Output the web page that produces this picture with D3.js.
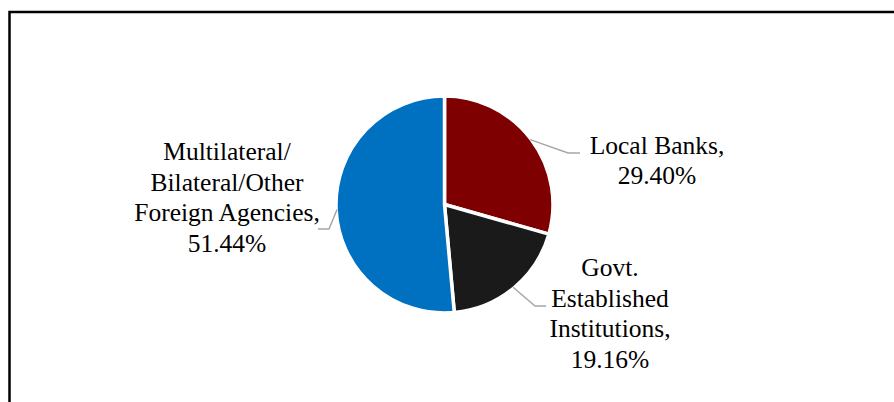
<!DOCTYPE html>
<html>
<head>
<meta charset="utf-8">
<script src="https://cdn.jsdelivr.net/npm/d3@7/dist/d3.min.js"></script>
<style>
  html, body { margin: 0; padding: 0; background: #fff; }
  svg { display: block; }
</style>
</head>
<body>
<div id="chart"></div>
<script>
// Sources of funding, share of total (%)
const categories = ["Local Banks", "Govt. Established Institutions", "Multilateral/Bilateral/Other Foreign Agencies"];
const shares = [29.40, 19.16, 51.44];
const colors = ["#7f0000", "#1a1a1a", "#0070c0"];
// Label text lines for each slice (the value line is appended from the data)
const labelLines = [
  ["Local Banks,"],
  ["Govt.", "Established", "Institutions,"],
  ["Multilateral/", "Bilateral/Other", "Foreign Agencies,"]
];

const W = 894, H = 402;
const cx = 444.5, cy = 204.5, R = 108.5;
const fontSize = 25.5, lineH = 30.7;

// Label placement: text anchor point (centre x, first baseline) and leader elbow/end
const labelLayout = [
  { x: 657, y: 153.5, elbow: [568, 153], end: [580, 153] },
  { x: 610, y: 276,   elbow: [535, 306], end: [546, 306] },
  { x: 227, y: 160,   elbow: [329, 229], end: [318, 229] }
];

const svg = d3.select("#chart").append("svg")
  .attr("width", W).attr("height", H);

// Chart area frame
svg.append("rect")
  .attr("x", 9.5).attr("y", 12)
  .attr("width", W + 20).attr("height", H + 20)
  .attr("fill", "none")
  .attr("stroke", "#000")
  .attr("stroke-width", 2.5);

const data = categories.map((c, i) => ({ name: c, value: shares[i], color: colors[i], lines: labelLines[i], layout: labelLayout[i] }));

const pie = d3.pie().value(d => d.value).sort(null);
const arc = d3.arc().innerRadius(0).outerRadius(R);
const arcs = pie(data);

const g = svg.append("g").attr("transform", `translate(${cx},${cy})`);

g.selectAll("path.slice")
  .data(arcs)
  .join("path")
  .attr("class", "slice")
  .attr("d", arc)
  .attr("fill", d => d.data.color)
  .attr("stroke", "#fff")
  .attr("stroke-width", 3.5)
  .attr("stroke-linejoin", "miter");

// Leader lines from the slice edge to the label
arcs.forEach(a => {
  const mid = (a.startAngle + a.endAngle) / 2;
  const sx = cx + (R - 1) * Math.sin(mid);
  const sy = cy - (R - 1) * Math.cos(mid);
  const L = a.data.layout;
  svg.append("polyline")
    .attr("points", [[sx, sy], L.elbow, L.end].map(p => p.join(",")).join(" "))
    .attr("fill", "none")
    .attr("stroke", "#a6a6a6")
    .attr("stroke-width", 1.4);
});

// Data labels: category name lines followed by the percentage
arcs.forEach(a => {
  const L = a.data.layout;
  const lines = a.data.lines.concat([d3.format(".2f")(a.data.value) + "%"]);
  const t = svg.append("text")
    .attr("text-anchor", "middle")
    .attr("font-family", "'Liberation Serif', 'Times New Roman', serif")
    .attr("font-size", fontSize)
    .attr("fill", "#000");
  lines.forEach((ln, i) => {
    t.append("tspan")
      .attr("x", L.x)
      .attr("y", L.y + i * lineH)
      .text(ln);
  });
});
</script>
</body>
</html>
